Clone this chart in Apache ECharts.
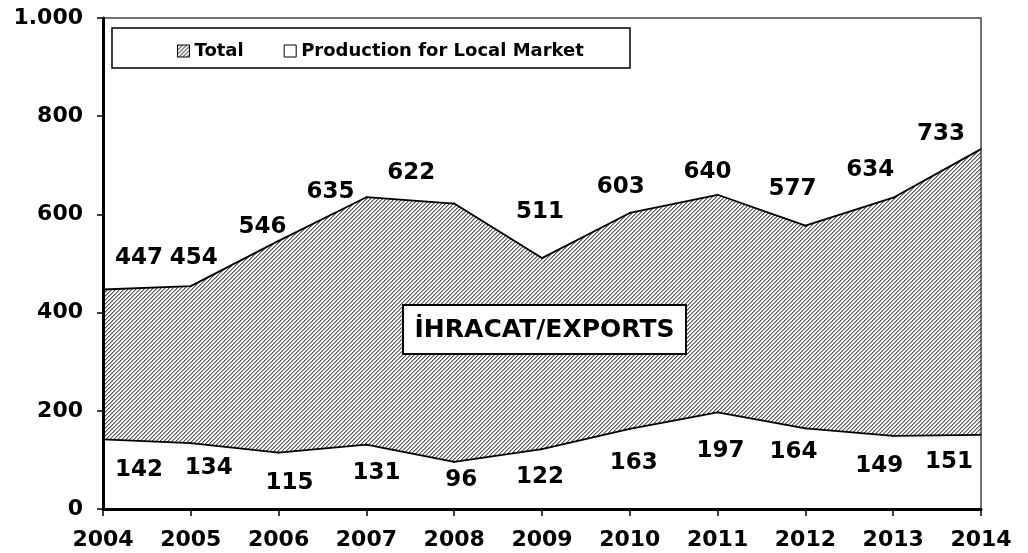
<!DOCTYPE html>
<html>
<head>
<meta charset="utf-8">
<script src="https://cdn.jsdelivr.net/npm/echarts@6/dist/echarts.min.js"></script>
<style>
  html, body { margin: 0; padding: 0; background: #fff; }
  #chart { width: 1028px; height: 553px; }
</style>
</head>
<body>
<div id="chart"></div>
<script>
var years = ['2004', '2005', '2006', '2007', '2008', '2009', '2010', '2011', '2012', '2013', '2014'];
var totalValues = [447, 454, 546, 635, 622, 511, 603, 640, 577, 634, 733];
var localValues = [142, 134, 115, 131, 96, 122, 163, 197, 164, 149, 151];

// label nudges (px), like the hand placed labels of the original
var totalLabelOffsets = [[36, -31], [3, -28], [-16, -14], [-36, -5], [-43, -31], [-2, -46],
  [-9, -26], [-10, -23], [-13, -37], [-23, -28], [-40, -15]];
var localLabelOffsets = [[36, 31], [18, 25], [11, 30], [10, 28], [7, 18], [-2, 28],
  [4, 34], [3, 39], [-12, 24], [-14, 30], [-32, 27]];

var FONT = 'DejaVu Sans';

function makeHatch() {
  var c = document.createElement('canvas');
  c.width = 4;
  c.height = 4;
  var ctx = c.getContext('2d');
  var img = ctx.createImageData(4, 4);
  for (var y = 0; y < 4; y++) {
    for (var x = 0; x < 4; x++) {
      var k = (x + y) % 4;
      var g = k === 0 ? 85 : (k === 1 ? 175 : 255);
      var p = (y * 4 + x) * 4;
      img.data[p] = g;
      img.data[p + 1] = g;
      img.data[p + 2] = g;
      img.data[p + 3] = 255;
    }
  }
  ctx.putImageData(img, 0, 0);
  return c;
}
var hatch = { image: makeHatch(), repeat: 'repeat' };

function withOffsets(values, offsets) {
  return values.map(function (v, i) {
    return { value: v, label: { offset: offsets[i] } };
  });
}

var labelStyle = {
  show: true,
  position: 'inside',
  color: '#000',
  fontFamily: FONT,
  fontWeight: 'bold',
  fontSize: 23,
  formatter: '{c}'
};

var myChart = echarts.init(document.getElementById('chart'));
var option = {
  animation: false,
  backgroundColor: '#fff',
  grid: {
    left: 103,
    right: 47,
    top: 18,
    bottom: 44,
    show: true,
    z: 10,
    borderColor: '#444',
    borderWidth: 1.5,
    backgroundColor: 'transparent'
  },
  legend: {
    left: 172,
    top: 37,
    itemWidth: 12,
    itemHeight: 12,
    itemGap: 40,
    textStyle: { color: '#000', fontFamily: FONT, fontWeight: 'bold', fontSize: 18 },
    data: [
      { name: 'Total', icon: 'rect', itemStyle: { color: hatch, borderColor: '#000', borderWidth: 1 } },
      { name: 'Production for Local Market', icon: 'rect', itemStyle: { color: '#fff', borderColor: '#000', borderWidth: 1 } }
    ]
  },
  graphic: [
    {
      type: 'rect',
      z: 3,
      shape: { x: 112, y: 28, width: 518, height: 40 },
      style: { fill: '#fff', stroke: '#000', lineWidth: 1.5 }
    },
    {
      type: 'rect',
      z: 20,
      shape: { x: 403, y: 305, width: 283, height: 49 },
      style: { fill: '#fff', stroke: '#000', lineWidth: 2 }
    },
    {
      type: 'text',
      z: 21,
      x: 544.5,
      y: 330,
      style: {
        text: 'İHRACAT/EXPORTS',
        fill: '#000',
        fontFamily: FONT,
        fontWeight: 'bold',
        fontSize: 25,
        align: 'center',
        verticalAlign: 'middle'
      }
    }
  ],
  xAxis: {
    type: 'category',
    data: years,
    boundaryGap: false,
    z: 10,
    axisLine: { lineStyle: { color: '#000', width: 3 } },
    axisTick: { show: true, length: 7, lineStyle: { color: '#000', width: 1.5 } },
    axisLabel: { color: '#000', fontFamily: FONT, fontWeight: 'bold', fontSize: 22, margin: 20 },
    splitLine: { show: false }
  },
  yAxis: {
    type: 'value',
    min: 0,
    max: 1000,
    interval: 200,
    z: 10,
    axisLine: { show: true, lineStyle: { color: '#000', width: 3 } },
    axisTick: { show: true, length: 6, lineStyle: { color: '#000', width: 1.5 } },
    axisLabel: {
      color: '#000',
      fontFamily: FONT,
      fontWeight: 'bold',
      fontSize: 22,
      margin: 20,
      formatter: function (v) {
        return v >= 1000 ? String(v).replace(/(\d)(\d{3})$/, '$1.$2') : String(v);
      }
    },
    splitLine: { show: false }
  },
  series: [
    {
      name: 'Total',
      type: 'line',
      data: withOffsets(totalValues, totalLabelOffsets),
      symbol: 'circle',
      symbolSize: 2,
      itemStyle: { color: '#000' },
      lineStyle: { color: '#000', width: 1.8 },
      areaStyle: { color: hatch, opacity: 1 },
      label: labelStyle,
      emphasis: { disabled: true },
      z: 2
    },
    {
      name: 'Production for Local Market',
      type: 'line',
      data: withOffsets(localValues, localLabelOffsets),
      symbol: 'circle',
      symbolSize: 2,
      itemStyle: { color: '#000' },
      lineStyle: { color: '#000', width: 1.8 },
      areaStyle: { color: '#fff', opacity: 1 },
      label: labelStyle,
      emphasis: { disabled: true },
      z: 3
    }
  ]
};
option && myChart.setOption(option);
</script>
</body>
</html>
